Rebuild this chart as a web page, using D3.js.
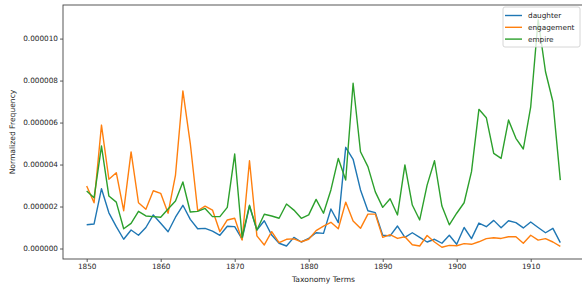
<!DOCTYPE html>
<html>
<head>
<meta charset="utf-8">
<script src="https://cdn.jsdelivr.net/npm/d3@7"></script>
<style>
body{margin:0;background:#fff;}
text{font-family:"DejaVu Sans",sans-serif;fill:#262626;}
</style>
</head>
<body>
<div id="chart"></div>
<script>
var w=582;
var h=284;

// years 1850..1914
var years=d3.range(1850,1915);
var seriesNames=["daughter","engagement","empire"];
var seriesColors=["#1f77b4","#ff7f0e","#2ca02c"];

// values in units of 1e-6
var daughter=[1.13,1.17,2.85,1.7,1.04,0.44,0.88,0.63,1.0,1.6,
1.2,0.8,1.49,2.06,1.39,0.94,0.96,0.83,0.63,1.06,
1.04,0.45,2.02,0.88,1.32,0.64,0.25,0.12,0.53,0.31,
0.48,0.75,0.72,1.88,1.23,4.82,4.25,2.79,1.8,1.71,
0.63,0.6,1.07,0.53,0.75,0.53,0.31,0.44,0.25,0.63,
0.2,1.0,0.47,1.21,1.04,1.34,0.99,1.32,1.23,0.98,
1.26,1.0,0.75,0.96,0.28];
var engagement=[2.98,2.18,5.88,3.3,3.61,1.8,4.6,2.18,1.87,2.75,
2.63,1.68,3.5,7.51,5.0,1.8,2.02,1.83,0.8,1.36,
1.44,0.4,4.18,0.6,0.17,0.8,0.28,0.44,0.46,0.32,
0.44,0.85,1.07,1.25,0.94,2.21,1.31,0.96,1.64,1.64,
0.53,0.66,0.48,0.56,0.18,0.12,0.62,0.31,0.06,0.15,
0.13,0.23,0.2,0.32,0.47,0.51,0.48,0.56,0.56,0.25,
0.63,0.4,0.47,0.31,0.1];
var empire=[2.74,2.42,4.88,2.5,2.21,0.94,1.2,1.77,1.55,1.52,
1.49,1.88,2.26,3.17,1.74,1.77,1.91,1.52,1.52,1.96,
4.5,0.53,2.06,0.88,1.63,1.55,1.44,2.12,1.83,1.44,
1.6,2.34,1.68,2.79,4.29,3.26,7.87,4.61,3.9,2.7,
1.96,2.37,1.6,3.98,2.07,1.36,3.02,4.18,2.02,1.13,
1.68,2.18,3.66,6.63,6.23,4.53,4.29,6.12,5.25,4.74,
6.75,10.9,8.42,6.99,3.26];

var yTicks=[0,2e-6,4e-6,6e-6,8e-6,10e-6];
var xTicks=[1850,1860,1870,1880,1890,1900,1910];

var padL=63, padR=584, padT=5, padB=259;

var xScale=d3.scaleLinear().domain([1846.8,1917.2]).range([padL,padR]);
var yScale=d3.scaleLinear().domain([-0.5e-6,11.6e-6]).range([padB,padT]);

var svg=d3.select("#chart").append("svg")
 .attr("width",w)
 .attr("height",h);

var allSeries=[daughter,engagement,empire];
var line=d3.line()
 .x(function(d,i){return xScale(years[i]);})
 .y(function(d){return yScale(d*1e-6);});

// lines
for(var s=0;s<allSeries.length;s++){
  svg.append("path")
   .datum(allSeries[s])
   .attr("fill","none")
   .attr("stroke",seriesColors[s])
   .attr("stroke-width",1.4)
   .attr("stroke-linejoin","round")
   .attr("d",line);
}

// axes
svg.append("g")
 .attr("transform","translate(0,"+padB+")")
 .call(d3.axisBottom(xScale).tickValues(xTicks).tickFormat(d3.format("d")).tickSize(3).tickPadding(2));
svg.append("g")
 .attr("transform","translate("+padL+",0)")
 .call(d3.axisLeft(yScale).tickValues(yTicks).tickFormat(function(d){return d3.format(".6f")(d);}).tickSize(3).tickPadding(2));
svg.selectAll(".domain").remove();
svg.selectAll(".tick line").attr("stroke","#333").attr("stroke-width",0.8);
svg.selectAll(".tick text").style("font-family","DejaVu Sans").style("font-size","7.3px").attr("fill","#262626");

// spines
svg.append("rect")
 .attr("x",padL).attr("y",padT)
 .attr("width",padR-padL).attr("height",padB-padT)
 .attr("fill","none").attr("stroke","#444").attr("stroke-width",0.9);

// axis labels
svg.append("text")
 .attr("x",(padL+padR)/2).attr("y",282)
 .style("text-anchor","middle").style("font-size","7.6px")
 .text("Taxonomy Terms");
svg.append("text")
 .attr("transform","rotate(-90)")
 .attr("x",-(padT+padB)/2).attr("y",15)
 .style("text-anchor","middle").style("font-size","7.6px")
 .text("Normalized Frequency");

// legend
var lg=svg.append("g");
lg.append("rect")
 .attr("x",503).attr("y",7).attr("width",77).attr("height",40).attr("rx",2)
 .attr("fill","#fff").attr("fill-opacity",0.8).attr("stroke","#ccc").attr("stroke-width",0.8);
for(var k=0;k<seriesNames.length;k++){
  var ly=15.5+k*11.8;
  lg.append("line").attr("x1",505).attr("x2",522).attr("y1",ly).attr("y2",ly)
   .attr("stroke",seriesColors[k]).attr("stroke-width",1.4);
  lg.append("text").attr("x",528).attr("y",ly+2.6).style("font-size","7.3px").text(seriesNames[k]);
}
</script>
</body>
</html>
